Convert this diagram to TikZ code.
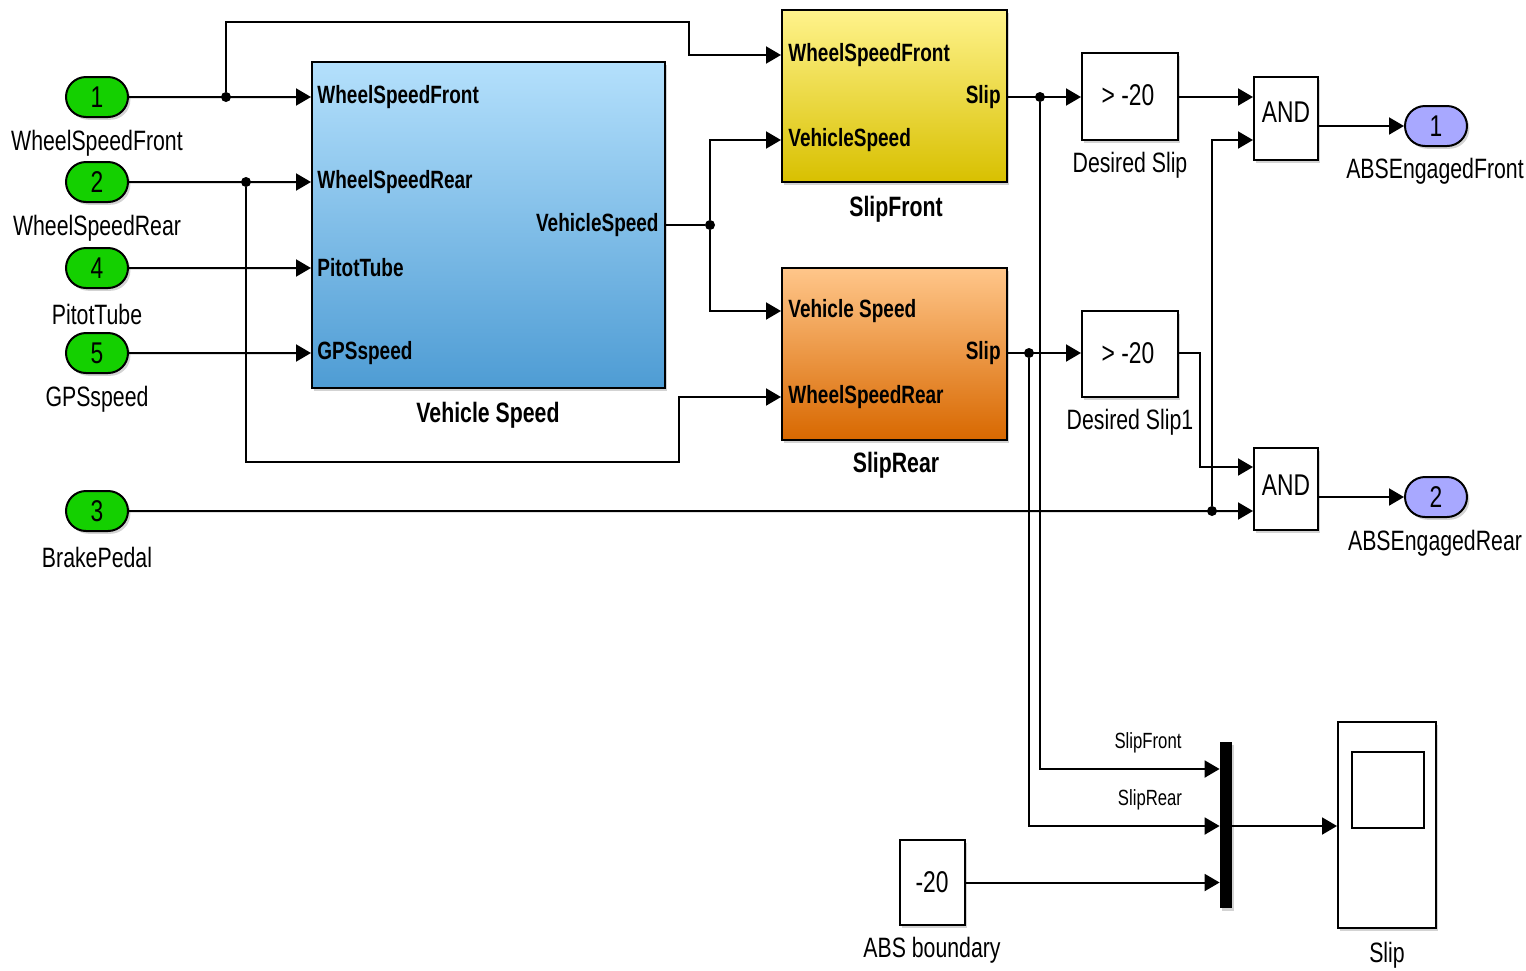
\documentclass[tikz,border=0pt]{standalone}
\usepackage{fontspec}
\setmainfont{Liberation Sans}[FakeStretch=0.76]
\usepackage{xcolor}
\usepackage{tikz}
\usetikzlibrary{arrows.meta,positioning,calc,fit,shapes.misc,shadows}

\definecolor{ingreen}{RGB}{20,208,0}
\definecolor{outlav}{RGB}{168,168,255}
\definecolor{vstop}{RGB}{180,224,252}
\definecolor{vsbot}{RGB}{78,156,212}
\definecolor{sftop}{RGB}{255,243,140}
\definecolor{sfbot}{RGB}{216,192,0}
\definecolor{srtop}{RGB}{255,198,138}
\definecolor{srbot}{RGB}{216,104,0}

\begin{document}
\begin{tikzpicture}[x=0.5pt,y=-0.5pt,
  sig/.style={line width=1pt,-{Triangle[length=7.5pt,width=8.5pt]}},
  wire/.style={line width=1pt},
  dot/.style={circle,fill,inner sep=0pt,minimum size=5pt},
  shd/.style={drop shadow={shadow xshift=1.2pt,shadow yshift=-1.4pt,opacity=0.35}},
  port/.style={rounded rectangle,draw,line width=1pt,minimum width=31pt,minimum height=20pt,
    inner sep=0pt,font=\fontsize{15}{16}\selectfont,shd},
  inport/.style={port,fill=ingreen},
  outport/.style={port,fill=outlav},
  block/.style={draw,line width=1pt,inner sep=0pt,shd},
  wblock/.style={block,fill=white},
  wtxt/.style={font=\fontsize{15}{16}\selectfont,inner sep=0pt},
  lbl/.style={font=\fontsize{14}{16}\selectfont,inner sep=1pt},
  blbl/.style={font=\bfseries\fontsize{14}{16}\selectfont,inner sep=1pt},
  plbl/.style={font=\bfseries\fontsize{12.5}{14}\selectfont,inner sep=3pt},
  slbl/.style={font=\fontsize{11}{13}\selectfont,inner sep=1pt}]
\useasboundingbox (0,0) rectangle (1526,970);

\foreach \n/\y/\t in {1/97/WheelSpeedFront,2/182/WheelSpeedRear,4/268/PitotTube,5/353/GPSspeed,3/511/BrakePedal}{
  \node[inport] (in\n) at (97,\y) {\n};
  \node[lbl] (lbl\n) at (97,\y+46) {\t};
}

\node[block,top color=vstop,bottom color=vsbot,fit={(312,62) (665,388)}] (vs) {};
\node[blbl] (vslbl) at (488,415) {Vehicle Speed};
\node[plbl,anchor=west] (vsp1) at (vs.west |- in1) {WheelSpeedFront};
\node[plbl,anchor=west] (vsp2) at (vs.west |- in2) {WheelSpeedRear};
\node[plbl,anchor=west] (vsp4) at (vs.west |- in4) {PitotTube};
\node[plbl,anchor=west] (vsp5) at (vs.west |- in5) {GPSspeed};
\node[plbl,anchor=east] (vsout) at (665,225) {VehicleSpeed};

\node[block,top color=sftop,bottom color=sfbot,fit={(782,10) (1007,182)}] (sf) {};
\node[blbl] (sflbl) at (896,209) {SlipFront};
\node[plbl,anchor=west] (sfp1) at (782,55) {WheelSpeedFront};
\node[plbl,anchor=west] (sfp2) at (782,140) {VehicleSpeed};
\node[plbl,anchor=east] (sfout) at (1007,97) {Slip};

\node[block,top color=srtop,bottom color=srbot,fit={(782,268) (1007,440)}] (sr) {};
\node[blbl] (srlbl) at (896,465) {SlipRear};
\node[plbl,anchor=west] (srp1) at (782,311) {Vehicle Speed};
\node[plbl,anchor=west] (srp2) at (782,397) {WheelSpeedRear};
\node[plbl,anchor=east] (srout) at (1007,353) {Slip};

\node[wblock,fit={(1082,53) (1178,140)}] (ds) {};
\node[wtxt] (dstxt) at (1128,95) {> -20};
\node[lbl] (dslbl) at (1130,165) {Desired Slip};
\node[wblock,fit={(1082,311) (1178,397)}] (ds1) {};
\node[wtxt] (ds1txt) at (1128,353) {> -20};
\node[lbl] (ds1lbl) at (1130,422) {Desired Slip1};

\node[wblock,fit={(1254,77) (1318,160)}] (and1) {};
\node[wtxt] (and1txt) at (1286,112) {AND};
\node[wblock,fit={(1254,448) (1318,530)}] (and2) {};
\node[wtxt] (and2txt) at (1286,485) {AND};
\node[outport] (out1) at (1436,126) {1};
\node[lbl] (lblo1) at (1435,171) {ABSEngagedFront};
\node[outport] (out2) at (1436,497) {2};
\node[lbl] (lblo2) at (1435,543) {ABSEngagedRear};

\node[wblock,fit={(900,840) (965,925)}] (cst) {};
\node[wtxt] (csttxt) at (932,882) {-20};
\node[lbl] (cstlbl) at (932,950) {ABS boundary};
\node[fill,inner sep=0pt,fit={(1220,742) (1232,908)},shd] (mux) {};
\node[slbl] (mlf) at (1148,743) {SlipFront};
\node[slbl] (mlr) at (1150,800) {SlipRear};
\node[wblock,fit={(1338,722) (1436,928)}] (scope) {};
\node[draw,fill=white,line width=1pt,inner sep=0pt,fit={(1352,752) (1424,828)}] (scr) {};
\node[lbl] (scopelbl) at (1387,955) {Slip};

\node[dot] (j1) at (226,97) {};
\node[dot] (j2) at (246,182) {};
\node[dot] (jv) at (710,225) {};
\node[dot] (jf) at (1040,97) {};
\node[dot] (jr) at (1029,353) {};
\node[dot] (jb) at (1212,511) {};

\foreach \n in {1,2,4,5}
  \draw[sig] (in\n) -- (vs.west |- in\n);
\draw[sig] (j1) |- (689,22) |- (sf.west |- sfp1);
\draw[sig] (j2) |- (679,462) |- (sr.west |- srp2);
\draw[wire] (vs.east |- vsout) -- (jv);
\draw[sig] (jv) |- (sf.west |- sfp2);
\draw[sig] (jv) |- (sr.west |- srp1);

\draw[sig] (sf.east |- sfout) -- (ds.west |- sfout);
\draw[sig] (sr.east |- srout) -- (ds1.west |- srout);
\draw[sig] (jf) |- (mux.west |- 0,769);
\draw[sig] (jr) |- (mux.west |- 0,826);

\draw[sig] (ds.east |- 0,97) -- (and1.west |- 0,97);
\draw[sig] (ds1.east |- 0,353) -| (1200,467) -- (and2.west |- 0,467);
\draw[sig] (in3) -- (and2.west |- in3);
\draw[sig] (jb) |- (and1.west |- 0,140);
\draw[sig] (and1.east |- out1) -- (out1);
\draw[sig] (and2.east |- out2) -- (out2);

\draw[sig] (cst) -- (mux.west |- cst);
\draw[sig] (mux.east |- 0,826) -- (scope.west |- 0,826);
\end{tikzpicture}
\end{document}
